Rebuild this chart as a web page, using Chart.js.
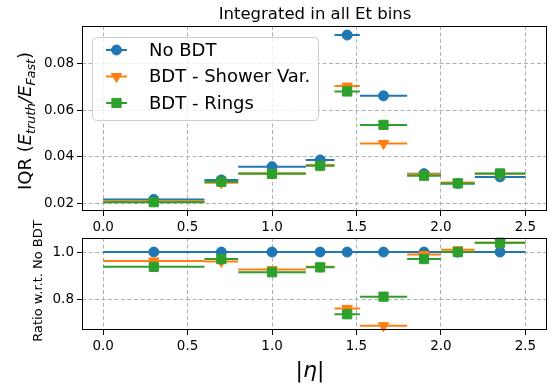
<!DOCTYPE html>
<html>
<head>
<meta charset="utf-8">
<script src="https://cdn.jsdelivr.net/npm/chart.js@4.4.1/dist/chart.umd.min.js"></script>
<style>
  body { margin: 0; background: #fff; width: 554px; height: 385px; position: relative; overflow: hidden; }
  canvas { position: absolute; left: 0; }
  #top { top: 0; }
  #bottom { top: 205px; }
</style>
</head>
<body>
<canvas id="top" width="554" height="240"></canvas>
<canvas id="bottom" width="554" height="180"></canvas>
<script>
// |eta| bins
const binEdges = [0, 0.6, 0.8, 1.2, 1.37, 1.52, 1.8, 2.0, 2.2, 2.5];
const binCenters = [0.3, 0.7, 1.0, 1.285, 1.445, 1.66, 1.9, 2.1, 2.35];

// IQR per bin
const iqrNoBDT = [0.0216, 0.0300, 0.0357, 0.0386, 0.0924, 0.0662, 0.0327, 0.0285, 0.0313];
const iqrShower = [0.0208, 0.0288, 0.0329, 0.0364, 0.0704, 0.0457, 0.0324, 0.0289, 0.0327];
const iqrRings = [0.0204, 0.0292, 0.0326, 0.0361, 0.0681, 0.0537, 0.0318, 0.0285, 0.0328];

// ratio w.r.t. No BDT
const ratioNoBDT = [1, 1, 1, 1, 1, 1, 1, 1, 1];
const ratioShower = [0.962, 0.960, 0.926, 0.938, 0.760, 0.686, 0.990, 1.010, 1.040];
const ratioRings = [0.937, 0.970, 0.914, 0.935, 0.735, 0.810, 0.970, 1.000, 1.040];

const xTicks = [0, 0.5, 1, 1.5, 2, 2.5];
const iqrTicks = [0.02, 0.04, 0.06, 0.08];
const ratioTicks = [0.8, 1.0];
const seriesNames = ['No BDT', 'BDT - Shower Var.', 'BDT - Rings'];

const FONT = 'DejaVu Sans';
const colors = ['#1f77b4', '#ff7f0e', '#2ca02c'];
const markers = [
    { pointStyle: 'circle', rotation: 0, radius: 5 },
    { pointStyle: 'triangle', rotation: 180, radius: 6 },
    { pointStyle: 'rect', rotation: 0, radius: 6.5 }
];

const BOTTOM_TOP = 205; // where the ratio canvas starts

function barData(vals) {
    const pts = [];
    vals.forEach((v, i) => {
        pts.push({ x: binEdges[i], y: v }, { x: binEdges[i + 1], y: v }, { x: binEdges[i + 1], y: null });
    });
    return pts;
}

function makeDatasets(series) {
    const ds = [];
    series.forEach((vals, s) => {
        ds.push({
            data: barData(vals),
            borderColor: colors[s],
            borderWidth: 2,
            pointRadius: 0,
            order: 6 - 2 * s,
            clip: false
        });
        ds.push({
            data: vals.map((v, i) => ({ x: binCenters[i], y: v })),
            showLine: false,
            pointStyle: markers[s].pointStyle,
            pointRotation: markers[s].rotation,
            pointRadius: markers[s].radius,
            backgroundColor: colors[s],
            borderColor: colors[s],
            borderWidth: 1,
            order: 5 - 2 * s,
            clip: false
        });
    });
    return ds;
}

// draw a run of text pieces (for the math labels)
function drawRich(ctx, parts, x, y, rotate) {
    ctx.save();
    ctx.translate(x, y);
    if (rotate) ctx.rotate(-Math.PI / 2);
    let total = 0;
    parts.forEach(p => { ctx.font = p.f; total += ctx.measureText(p.t).width; });
    let cx = -total / 2;
    ctx.fillStyle = '#000';
    ctx.textBaseline = 'alphabetic';
    ctx.textAlign = 'left';
    parts.forEach(p => {
        ctx.font = p.f;
        ctx.fillText(p.t, cx, p.dy || 0);
        cx += ctx.measureText(p.t).width;
    });
    ctx.restore();
}

function drawFrame(chart) {
    const { ctx, chartArea: a } = chart;
    ctx.save();
    ctx.strokeStyle = '#000';
    ctx.lineWidth = 1;
    ctx.strokeRect(Math.round(a.left) + 0.5, Math.round(a.top) + 0.5,
        Math.round(a.right - a.left) - 1, Math.round(a.bottom - a.top) - 1);
    ctx.restore();
}

function xScale(afterFitHeight) {
    return {
        type: 'linear',
        min: -0.125,
        max: 2.625,
        afterBuildTicks: s => { s.ticks = xTicks.map(v => ({ value: v })); },
        afterFit: s => { s.height = afterFitHeight; },
        ticks: {
            callback: v => v.toFixed(1),
            font: { family: FONT, size: 13.5 },
            color: '#000',
            maxRotation: 0,
            autoSkip: false,
            padding: 3
        },
        grid: { color: '#b0b0b0', lineWidth: 1, tickLength: 5, tickColor: '#000', tickBorderDash: [] },
        border: { display: false, dash: [4, 2.5] }
    };
}

function yScale(min, max, ticks, digits) {
    return {
        type: 'linear',
        min: min,
        max: max,
        afterBuildTicks: s => { s.ticks = ticks.map(v => ({ value: v })); },
        afterFit: s => { s.width = 82; },
        ticks: {
            callback: v => v.toFixed(digits),
            font: { family: FONT, size: 13.5 },
            color: '#000',
            padding: 3
        },
        grid: { color: '#b0b0b0', lineWidth: 1, tickLength: 5, tickColor: '#000', tickBorderDash: [] },
        border: { display: false, dash: [4, 2.5] }
    };
}

const topDecor = {
    id: 'topDecor',
    afterDraw(chart) {
        const ctx = chart.ctx;
        drawFrame(chart);
        // title
        ctx.save();
        ctx.font = '16.5px ' + FONT;
        ctx.fillStyle = '#000';
        ctx.textAlign = 'center';
        ctx.textBaseline = 'alphabetic';
        ctx.fillText('Integrated in all Et bins', 315, 19);
        ctx.restore();
        // y label
        const big = '18px ' + FONT, it = 'italic 18px ' + FONT, sub = 'italic 12.6px ' + FONT;
        drawRich(ctx, [
            { t: 'IQR (', f: big },
            { t: 'E', f: it },
            { t: 'truth', f: sub, dy: 4 },
            { t: '/', f: it },
            { t: 'E', f: it },
            { t: 'Fast', f: sub, dy: 4 },
            { t: ')', f: big }
        ], 31, 121, true);
        // legend
        ctx.save();
        ctx.beginPath();
        ctx.roundRect(92.5, 37.5, 226, 83, 4);
        ctx.fillStyle = 'rgba(255,255,255,0.8)';
        ctx.fill();
        ctx.strokeStyle = '#cccccc';
        ctx.lineWidth = 1;
        ctx.stroke();
        const rows = [50, 76.5, 103];
        seriesNames.forEach((name, s) => {
            const y = rows[s];
            ctx.strokeStyle = colors[s];
            ctx.fillStyle = colors[s];
            ctx.lineWidth = 2;
            ctx.beginPath();
            ctx.moveTo(106, y);
            ctx.lineTo(127, y);
            ctx.stroke();
            ctx.lineWidth = 1;
            Chart.helpers.drawPoint(ctx, {
                pointStyle: markers[s].pointStyle,
                rotation: markers[s].rotation,
                radius: markers[s].radius,
                borderWidth: 1
            }, 116.5, y);
            ctx.fillStyle = '#000';
            ctx.font = '18px ' + FONT;
            ctx.textAlign = 'left';
            ctx.textBaseline = 'middle';
            ctx.fillText(name, 149, y + 1);
        });
        ctx.restore();
    }
};

const bottomDecor = {
    id: 'bottomDecor',
    afterDraw(chart) {
        const ctx = chart.ctx;
        drawFrame(chart);
        drawRich(ctx, [{ t: 'Ratio w.r.t. No BDT', f: '13px ' + FONT }], 42, 281 - BOTTOM_TOP, true);
        drawRich(ctx, [
            { t: '|', f: '22px ' + FONT },
            { t: 'η', f: 'italic 22px ' + FONT },
            { t: '|', f: '22px ' + FONT }
        ], 310, 377 - BOTTOM_TOP, false);
    }
};

const commonOptions = {
    responsive: false,
    animation: false,
    plugins: {
        legend: { display: false },
        tooltip: { enabled: false }
    }
};

new Chart(document.getElementById('top'), {
    type: 'line',
    data: { datasets: makeDatasets([iqrNoBDT, iqrShower, iqrRings]) },
    options: {
        ...commonOptions,
        layout: { padding: { top: 26, right: 6, left: 0, bottom: 0 } },
        scales: {
            x: xScale(29),
            y: yScale(0.0166, 0.0963, iqrTicks, 2)
        }
    },
    plugins: [topDecor]
});

new Chart(document.getElementById('bottom'), {
    type: 'line',
    data: { datasets: makeDatasets([ratioNoBDT, ratioShower, ratioRings]) },
    options: {
        ...commonOptions,
        layout: { padding: { top: 238 - BOTTOM_TOP, right: 6, left: 0, bottom: 0 } },
        scales: {
            x: xScale(55),
            y: yScale(0.668, 1.06, ratioTicks, 1)
        }
    },
    plugins: [bottomDecor]
});
</script>
</body>
</html>
